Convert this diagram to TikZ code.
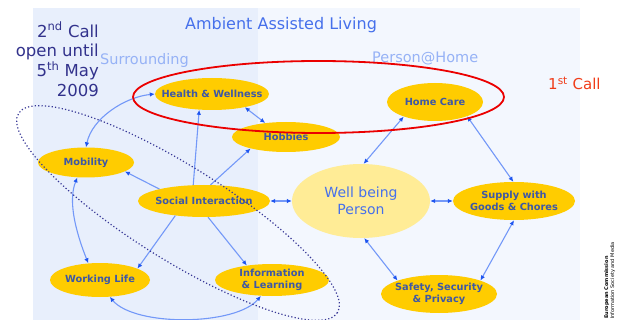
\documentclass[tikz,border=0pt]{standalone}
\usepackage{fontspec}
\setmainfont{DejaVu Sans}
\usetikzlibrary{shapes.geometric,arrows.meta}

\definecolor{leftpanel}{RGB}{232,239,252}
\definecolor{rightpanel}{RGB}{243,247,254}
\definecolor{titleblue}{RGB}{70,112,235}
\definecolor{paleblue}{RGB}{150,178,246}
\definecolor{callnavy}{RGB}{50,50,140}
\definecolor{callred}{RGB}{240,60,25}
\definecolor{goldfill}{RGB}{255,204,0}
\definecolor{palegold}{RGB}{255,236,150}
\definecolor{nodetext}{RGB}{62,88,165}
\definecolor{linkblue}{RGB}{115,152,248}
\definecolor{tipblue}{RGB}{30,85,240}
\definecolor{ringred}{RGB}{235,0,0}
\definecolor{dotnavy}{RGB}{55,55,150}

\begin{document}
\begin{tikzpicture}
[
  x=1pt, y=-1pt,
  topic/.style={ellipse, fill=goldfill, inner xsep=-12pt, inner ysep=0pt, text=nodetext, align=center,
    font=\fontsize{9.8}{12.5}\selectfont\bfseries},
  link/.style={draw=linkblue, line width=1.1pt},
  >={Latex[length=5pt,width=4.5pt,color=tipblue]}
]

\useasboundingbox (0,0) rectangle (620,320);
\fill[leftpanel] (33,8) rectangle (258,320);
\fill[rightpanel] (258,8) rectangle (580,320);

\node[anchor=base, text=titleblue, font=\fontsize{16}{19}\selectfont] (title) at (281,30) {Ambient Assisted Living};
\node[anchor=base west, inner sep=0pt, text=paleblue, font=\fontsize{14.5}{17}\selectfont] (surr) at (100,65) {Surrounding};
\node[anchor=base west, inner sep=0pt, text=paleblue, font=\fontsize{14.5}{17}\selectfont] (home) at (372,63) {Person@Home};
\node[anchor=north east, inner sep=0pt, align=right, text=callnavy, font=\fontsize{16.5}{19.7}\selectfont] (second) at (99,22)
  {2\textsuperscript{nd} Call\\open until\\5\textsuperscript{th} May\\2009};
\node[anchor=base west, inner sep=0pt, text=callred, font=\fontsize{15}{18}\selectfont] (first) at (548,90) {1\textsuperscript{st} Call};
\node[rotate=90, anchor=north west, inner sep=0pt, align=left, font=\fontsize{5}{6}\selectfont] (ec) at (604,319)
  {\textbf{European Commission}\\Information Society and Media};

% topics
\node[topic, minimum width=114pt, minimum height=32pt] (health) at (212,94) {Health \& Wellness};
\node[topic, minimum width=108pt, minimum height=30pt] (hob) at (286,137) {Hobbies};
\node[topic, minimum width=96pt, minimum height=38pt] (care) at (435,102) {Home Care};
\node[topic, minimum width=96pt, minimum height=30pt] (mob) at (86,162.5) {Mobility};
\node[topic, minimum width=132pt, minimum height=32pt] (social) at (204,201) {Social Interaction};
\node[topic, minimum width=138pt, minimum height=74pt, fill=palegold, text=titleblue,
  font=\fontsize{14}{17}\selectfont] (well) at (361,201) {Well being\\Person};
\node[topic, minimum width=122pt, minimum height=38pt] (supply) at (514,201) {Supply with\\Goods \& Chores};
\node[topic, minimum width=100pt, minimum height=34pt] (work) at (100,280) {Working Life};
\node[topic, minimum width=114pt, minimum height=32pt] (info) at (272,280) {Information\\\& Learning};
\node[topic, minimum width=116pt, minimum height=38pt] (safe) at (439,294) {Safety, Security\\\& Privacy};

\path[link]
  (health.-22) edge[<->] (hob.146)
  (social.124) edge[->] (health.231)
  (social.68) edge[->] (hob.198)
  (social.165) edge[->] (mob.-13)
  (social.207) edge[->] (work.17)
  (social.-76) edge[->] (info.150)
  (social.east) edge[<->] (well.west)
  (well.86) edge[<->] (care.205)
  (care.-24) edge[<->] (supply.92)
  (well.east) edge[<->] (supply.west)
  (supply.south) edge[<->] (safe.18)
  (well.-85) edge[<->] (safe.162);

\draw[link, <->] (health.west) .. controls +(-30,3) and +(6,-29) .. (mob.north);
\draw[link, <->] (mob.240) .. controls +(-9,22) and +(-14,-35) .. (work.125);
\draw[link, <->] (work.-60) .. controls +(25,30) and +(-25,30) .. (info.-125);

% calls
\draw[ringred, line width=1.8pt] (318.5,97) ellipse [x radius=185.5, y radius=36];
\draw[dotnavy, line width=1.2pt, dash pattern=on 1.2pt off 2.2pt, rotate around={-32:(178,213)}]
  (178,213) ellipse [x radius=188, y radius=47];
\end{tikzpicture}
\end{document}
